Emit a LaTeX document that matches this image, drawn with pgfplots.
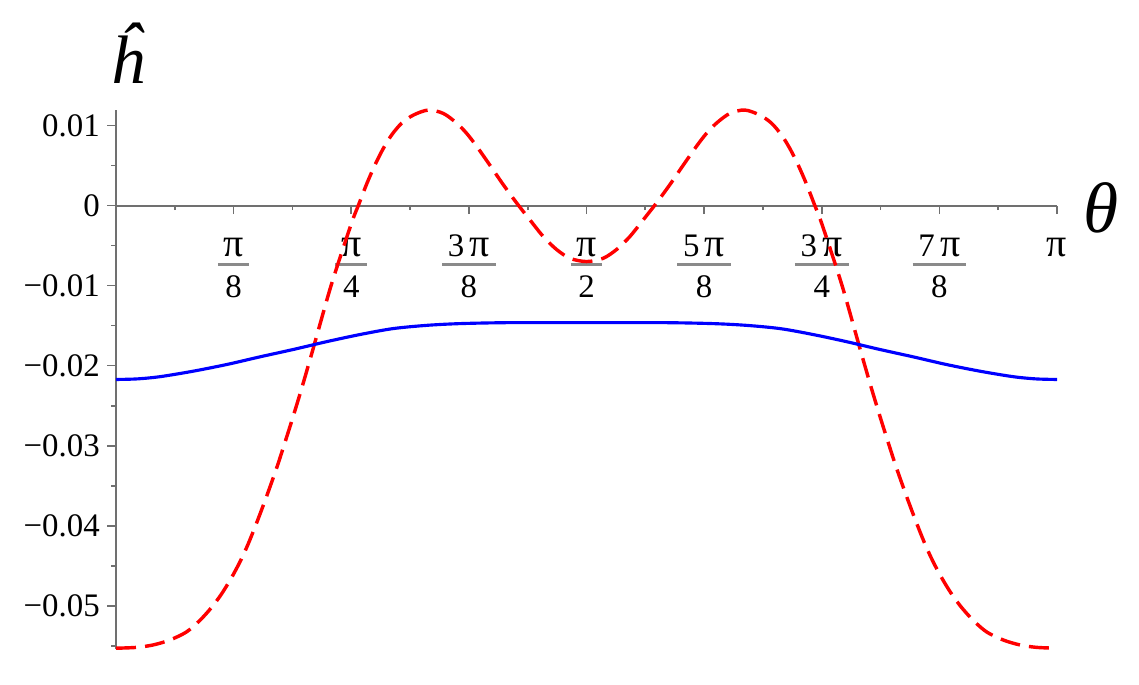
\documentclass[border=0pt]{standalone}
\usepackage{fontspec}
\setmainfont{Liberation Serif}
\usepackage{pgfplots}
\pgfplotsset{compat=1.18}
\definecolor{axgray}{HTML}{707070}
\definecolor{bargray}{HTML}{8A8A8A}

% stacked fraction like the ones in the reference
\newsavebox\numbox
\newsavebox\denbox
\newdimen\frw
\newcommand{\p}{{\fontsize{14}{14}\selectfont π}}
\newcommand{\fr}[2]{\sbox\numbox{\vphantom{3}#1}\sbox\denbox{#2}%
  \frw=\wd\numbox \ifdim\wd\denbox>\frw \frw=\wd\denbox\fi \advance\frw by 4pt%
  \vbox{\offinterlineskip
    \hbox to\frw{\hss\usebox\numbox\hss}\kern 2.2pt
    \hbox{\textcolor{bargray}{\rule{\frw}{0.9pt}}}\kern 3.6pt
    \hbox to\frw{\hss\usebox\denbox\hss}}}
\newcommand{\single}[1]{\sbox\numbox{\vphantom{3}#1}\vbox{\offinterlineskip\hbox{\usebox\numbox}}}

\pgfplotstableread{
x y
0.000 -0.0553
0.067 -0.0552
0.123 -0.0549
0.178 -0.0543
0.234 -0.0533
0.278 -0.0519
0.317 -0.0503
0.351 -0.0486
0.384 -0.0466
0.414 -0.0445
0.441 -0.0423
0.471 -0.0395
0.504 -0.0362
0.538 -0.0326
0.564 -0.0296
0.591 -0.0264
0.621 -0.0227
0.658 -0.0179
0.714 -0.0105
0.755 -0.0057
0.791 -0.0017
0.809 0.0000
0.837 0.0027
0.865 0.0051
0.892 0.0071
0.920 0.0088
0.954 0.0103
0.993 0.0113
1.043 0.01193
1.093 0.0115
1.137 0.0103
1.171 0.0090
1.204 0.0074
1.249 0.0050
1.293 0.0026
1.338 0.0003
1.382 -0.0018
1.427 -0.0039
1.471 -0.0055
1.516 -0.0066
1.5708 -0.0070
1.626 -0.0066
1.671 -0.0055
1.715 -0.0039
1.760 -0.0018
1.804 0.0003
1.849 0.0026
1.893 0.0050
1.938 0.0074
1.971 0.0090
2.005 0.0103
2.049 0.0115
2.099 0.01193
2.149 0.0113
2.188 0.0103
2.222 0.0088
2.250 0.0071
2.277 0.0051
2.305 0.0027
2.333 0.0000
2.351 -0.0017
2.387 -0.0057
2.428 -0.0105
2.484 -0.0179
2.521 -0.0227
2.551 -0.0264
2.578 -0.0296
2.604 -0.0326
2.638 -0.0362
2.671 -0.0395
2.701 -0.0423
2.728 -0.0445
2.758 -0.0466
2.791 -0.0486
2.825 -0.0503
2.864 -0.0519
2.908 -0.0533
2.964 -0.0543
3.019 -0.0549
3.075 -0.0552
3.1416 -0.0553
}\redtable

\pgfplotstableread{
x y
0.000 -0.02173
0.070 -0.02166
0.147 -0.02138
0.257 -0.02070
0.371 -0.01985
0.481 -0.01890
0.591 -0.01799
0.704 -0.01700
0.814 -0.01612
0.924 -0.01538
1.037 -0.01497
1.150 -0.01475
1.316 -0.01463
1.5708 -0.01463
1.826 -0.01463
1.992 -0.01475
2.105 -0.01497
2.218 -0.01538
2.328 -0.01612
2.438 -0.01700
2.551 -0.01799
2.661 -0.01890
2.771 -0.01985
2.885 -0.02070
2.995 -0.02138
3.072 -0.02166
3.1416 -0.02173
}\bluetable

\begin{document}
\begin{tikzpicture}
\useasboundingbox (-40.6pt,-12.25pt) rectangle (358.05pt,227.15pt);
\begin{axis}[
    at={(0,0)}, anchor=south west,
    scale only axis,
    width=329.35pt, height=188.65pt,
    xmin=0, xmax=3.14159, ymin=-0.0554, ymax=0.01193,
    axis x line=middle, axis y line=left,
    axis line style={-, draw=axgray, line width=0.7pt},
    clip=false,
    scaled y ticks=false,
    font=\fontsize{11.5}{13}\selectfont,
    xtick={0.392699,0.785398,1.178097,1.570796,1.963495,2.356194,2.748894,3.141593},
    xticklabels={\fr{\p}{8},\fr{\p}{4},\fr{3\,\p}{8},\fr{\p}{2},\fr{5\,\p}{8},\fr{3\,\p}{4},\fr{7\,\p}{8},\single{\p}},
    minor xtick={0.19635,0.589049,0.981748,1.374447,1.767146,2.159845,2.552544,2.945243},
    ytick={-0.05,-0.04,-0.03,-0.02,-0.01,0,0.01},
    yticklabels={−0.05,−0.04,−0.03,−0.02,−0.01,0,0.01},
    minor ytick={-0.055,-0.045,-0.035,-0.025,-0.015,-0.005,0.005},
    tick align=outside,
    tick style={draw=axgray, line width=0.6pt},
    major tick length=3pt,
    minor tick length=1.6pt,
    xticklabel style={anchor=north, inner sep=0pt, yshift=-7pt},
    yticklabel style={anchor=east, inner sep=0pt, xshift=-2.5pt},
]
\addplot[color=red, line width=1.2pt, dash pattern=on 7pt off 3.2pt, smooth] table[x=x, y=y] {\redtable};
\addplot[color=blue, line width=1.1pt, smooth] table[x=x, y=y] {\bluetable};
\node[anchor=base, font=\fontsize{24}{26}\selectfont\itshape] at (axis cs:0.040,0.0153) {ĥ};
\node[anchor=base, font=\fontsize{25}{27}\selectfont\itshape] at (axis cs:3.290,-0.0034) {θ};
\end{axis}
\end{tikzpicture}
\end{document}
